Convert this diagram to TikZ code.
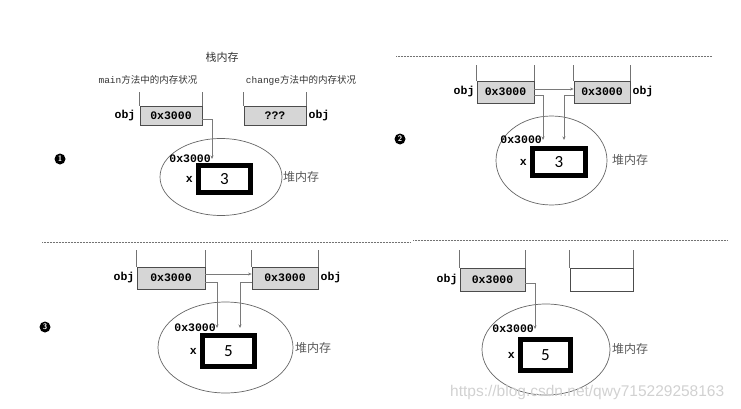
\documentclass[tikz,border=0pt]{standalone}
\usepackage{fontspec}
\setmonofont{Liberation Mono}
\newfontfamily\cjk{Noto Sans CJK SC}
\newfontfamily\digitfont{Carlito}
\newfontfamily\wmfont{Liberation Sans}
\usetikzlibrary{arrows.meta}
\definecolor{cellgray}{HTML}{D6D6D6}
\definecolor{linegray}{HTML}{7A7A7A}

\begin{document}
\begin{tikzpicture}[x=1pt, y=-1pt,
    cell/.style={draw=black!70, fill=cellgray, line width=0.8pt, inner sep=0pt, font=\ttfamily\bfseries\fontsize{11.5}{13}\selectfont},
    emptycell/.style={draw=black!70, line width=0.8pt, inner sep=0pt},
    wall/.style={draw=black!55, line width=0.6pt},
    link/.style={draw=linegray, line width=0.6pt, -{Stealth[length=3.5pt,width=3pt]}},
    heap/.style={draw=black!60, line width=0.7pt},
    valbox/.style={draw=black, line width=5pt, fill=white, inner sep=0pt, font=\digitfont\fontsize{17}{20}\selectfont},
    mono/.style={font=\ttfamily\bfseries\fontsize{11.5}{13}\selectfont, inner sep=1pt},
    cjklbl/.style={font=\cjk\fontsize{9.5}{11}\selectfont, text=black!80, inner sep=0pt},
    heaplbl/.style={font=\cjk\fontsize{12}{14}\selectfont, text=black!65, inner sep=0pt},
    stepnum/.style={circle, fill=black, inner sep=0pt, minimum size=11pt, text=white, font=\sffamily\bfseries\fontsize{8}{8}\selectfont},
    sepline/.style={draw=black!55, line width=0.6pt, dash pattern=on 0.6pt off 0.9pt}
]
    \useasboundingbox (0,0) rectangle (741,409);

    % panel 1: before the call
    \node [cjklbl, font=\cjk\fontsize{11}{13}\selectfont] (title) at (222,57) {栈内存};
    \node [cjklbl] (mainlbl) at (148,80) {{\ttfamily main}方法中的内存状况};
    \node [cjklbl] (chglbl) at (301,80) {{\ttfamily change}方法中的内存状况};
    \node [cell, minimum width=62pt, minimum height=19pt] (m1) at (171,115.5) {0x3000};
    \draw [wall] (m1.north west) -- ++(0,-14);
    \draw [wall] (m1.north east) -- ++(0,-14);
    \node [mono, anchor=east] at ([xshift=-3pt]m1.west) {obj};
    \node [cell, minimum width=62pt, minimum height=19pt] (c1) at (275,115.5) {???};
    \draw [wall] (c1.north west) -- ++(0,-14);
    \draw [wall] (c1.north east) -- ++(0,-14);
    \node [mono, anchor=west] at ([xshift=1pt]c1.east) {obj};
    % heap 1
    \draw [heap] (221,177) ellipse [x radius=61, y radius=38.5];
    \node [mono, anchor=east] (a1) at (212,159) {0x3000};
    \node [valbox, minimum width=52pt, minimum height=27pt] (v1) at (224.5,179) {3\hspace{8pt}};
    \node [mono, anchor=east] at ([xshift=-2pt]v1.west) {x};
    \node [heaplbl, anchor=west] at (283,177) {堆内存};
    \draw [link] ([yshift=-3.5pt]m1.east) -| (a1.east);
    \node [stepnum] (n1) at (60,159) {1};

    % panel 2: obj passed to change
    \draw [sepline] (396,56) -- (712,56);
    \node [cell, minimum width=57pt, minimum height=22pt] (l2) at (505.5,92) {0x3000};
    \draw [wall] (l2.north west) -- ++(0,-16);
    \draw [wall] (l2.north east) -- ++(0,-16);
    \node [mono, anchor=east] at ([xshift=-1pt]l2.west) {obj};
    \node [cell, minimum width=56pt, minimum height=22pt] (r2) at (602,92) {0x3000};
    \draw [wall] (r2.north west) -- ++(0,-16);
    \draw [wall] (r2.north east) -- ++(0,-16);
    \node [mono, anchor=west] at ([xshift=1pt]r2.east) {obj};
    % heap 2
    \draw [heap] (551.5,160.5) ellipse [x radius=55.5, y radius=44.5];
    \node [mono, anchor=east] (a2) at (543,140) {0x3000};
    \coordinate (p2) at (564,140);
    \node [valbox, minimum width=53pt, minimum height=27pt] (v2) at (559,162) {3\hspace{8pt}};
    \node [mono, anchor=east] at ([xshift=-2pt]v2.west) {x};
    \node [heaplbl, anchor=west] at (612,160) {堆内存};
    \draw [link] ([yshift=3pt]l2.east) -- ([yshift=3pt]r2.west);
    \draw [link] ([yshift=-3pt]l2.east) -| (a2.east);
    \draw [link] ([yshift=-3pt]r2.west) -| (p2);
    \node [stepnum] (n2) at (400,139) {2};

    % panel 3: x changed through the copy
    \draw [sepline] (42,242) -- (410,242);
    \node [cell, minimum width=68pt, minimum height=22pt] (l3) at (171,278) {0x3000};
    \draw [wall] (l3.north west) -- ++(0,-17);
    \draw [wall] (l3.north east) -- ++(0,-17);
    \node [mono, anchor=east] at ([xshift=-1pt]l3.west) {obj};
    \node [cell, minimum width=66pt, minimum height=22pt] (r3) at (285,278) {0x3000};
    \draw [wall] (r3.north west) -- ++(0,-17);
    \draw [wall] (r3.north east) -- ++(0,-17);
    \node [mono, anchor=west] at ([xshift=1pt]r3.east) {obj};
    % heap 3
    \draw [heap] (225.5,347.5) ellipse [x radius=67.5, y radius=45.5];
    \node [mono, anchor=east] (a3) at (217,328) {0x3000};
    \coordinate (p3) at (240,328);
    \node [valbox, minimum width=52pt, minimum height=31pt] (v3) at (228.5,351) {5\hspace{10pt}};
    \node [mono, anchor=east] at ([xshift=-2pt]v3.west) {x};
    \node [heaplbl, anchor=west] at (295,348) {堆内存};
    \draw [link] ([yshift=4pt]l3.east) -- ([yshift=4pt]r3.west);
    \draw [link] ([yshift=-4pt]l3.east) -| (a3.east);
    \draw [link] ([yshift=-4pt]r3.west) -| (p3);
    \node [stepnum] (n3) at (45,327) {3};

    % panel 4: change has returned
    \draw [sepline] (413,240) -- (727,240);
    \node [cell, minimum width=65pt, minimum height=23pt] (l4) at (492.5,279.5) {0x3000};
    \draw [wall] (l4.north west) -- ++(0,-18);
    \draw [wall] (l4.north east) -- ++(0,-18);
    \node [mono, anchor=east] at ([xshift=-1pt]l4.west) {obj};
    \node [emptycell, minimum width=63pt, minimum height=23pt] (r4) at (601.5,279.5) {};
    \draw [wall] (r4.north west) -- ++(0,-18);
    \draw [wall] (r4.north east) -- ++(0,-18);
    % heap 4
    \draw [heap] (546,349.5) ellipse [x radius=64, y radius=45.5];
    \node [mono, anchor=east] (a4) at (535,329) {0x3000};
    \node [valbox, minimum width=50pt, minimum height=31pt] (v4) at (545.5,355) {5\hspace{10pt}};
    \node [mono, anchor=east] at ([xshift=-2pt]v4.west) {x};
    \node [heaplbl, anchor=west] at (612,349) {堆内存};
    \draw [link] ([yshift=-3.5pt]l4.east) -| (a4.east);

    % watermark
    \node [anchor=west, inner sep=0pt, text=black!18, font=\wmfont\fontsize{15.5}{18}\selectfont] (wm) at (450,392) {https://blog.csdn.net/qwy715229258163};
\end{tikzpicture}
\end{document}
